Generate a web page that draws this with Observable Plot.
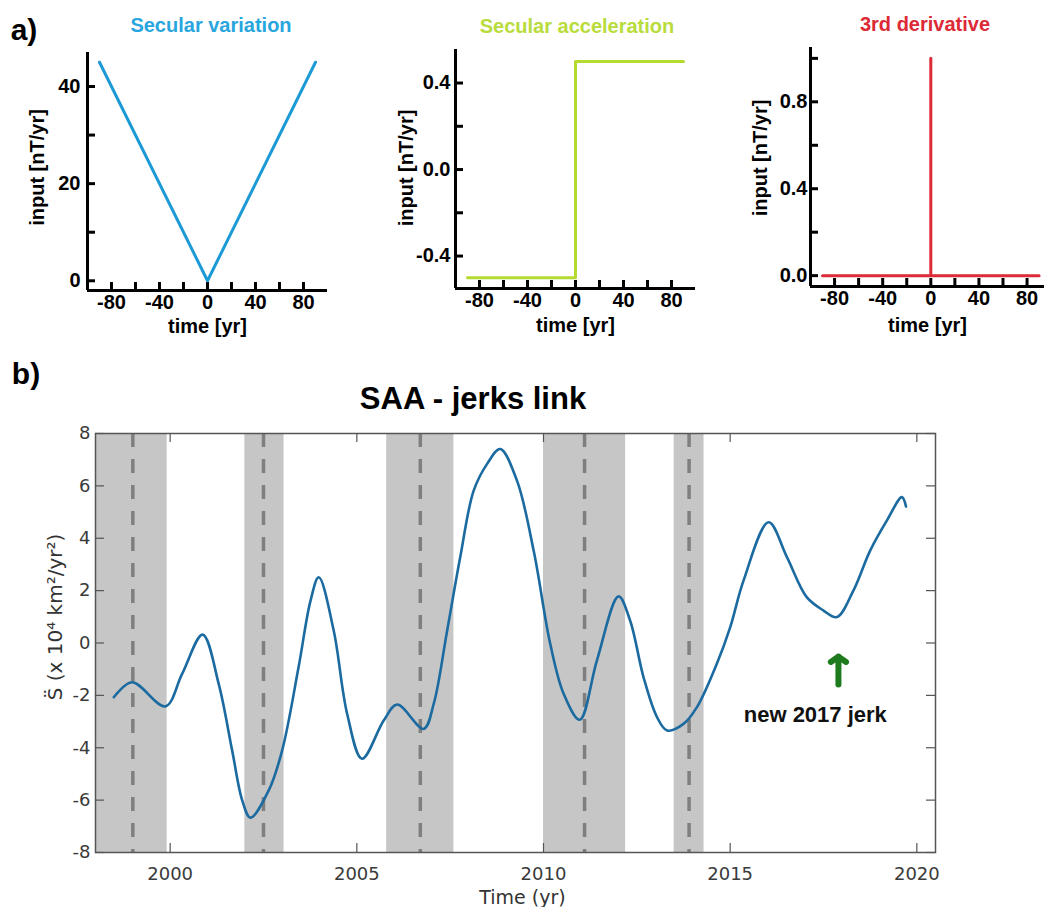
<!DOCTYPE html>
<html><head><meta charset="utf-8">
<script src="https://cdn.jsdelivr.net/npm/d3@7"></script>
<script src="https://cdn.jsdelivr.net/npm/@observablehq/plot@0.6"></script>
<style>
body{margin:0;background:#fff;}
#wrap{position:relative;width:1044px;height:907px;overflow:hidden;background:#fff;}
</style></head><body><div id="wrap"></div>
<script>
// ---------- data: panel a ----------
const svTime = [-90, 0, 90];
const svValue = [45, 0, 45];
const saTime = [-90, 0, 90];
const saValue = [-0.5, 0.5, 0.5];
const tdTime = [-90, 0, 0, 0, 90];
const tdValue = [0, 0, 1, 0, 0];
const topXTicks = [-80, -60, -40, -20, 0, 20, 40, 60, 80];
const topXLabels = [-80, -40, 0, 40, 80];
const svYTicks = [0, 10, 20, 30, 40];
const svYLabels = [0, 20, 40];
const saYTicks = [-0.4, -0.2, 0, 0.2, 0.4];
const saYLabels = [-0.4, 0, 0.4];
const tdYTicks = [0, 0.2, 0.4, 0.6, 0.8, 1.0];
const tdYLabels = [0, 0.4, 0.8];
const panelTitles = ["Secular variation", "Secular acceleration", "3rd derivative"];

// ---------- data: panel b ----------
const saaYear = [1998.49,1998.98,1999.87,2000.32,2000.87,2001.30,2001.66,2001.93,2002.15,2002.64,2003.00,2003.44,2003.76,2003.98,2004.38,2004.74,2005.14,2005.72,2006.08,2006.79,2007.06,2007.42,2007.77,2008.13,2008.49,2008.84,2009.29,2009.74,2010.18,2010.54,2010.97,2011.43,2012.01,2012.32,2012.68,2013.04,2013.31,2013.75,2014.11,2014.64,2015.00,2015.36,2016.03,2016.52,2017.05,2017.50,2017.86,2018.30,2018.75,2019.20,2019.60,2019.71];
const saaValue = [-2.07,-1.50,-2.42,-1.18,0.32,-1.56,-4.10,-6.01,-6.67,-5.63,-4.10,-0.92,1.62,2.51,0.48,-2.70,-4.42,-2.96,-2.35,-3.28,-2.32,0.48,3.28,5.82,6.84,7.41,6.20,3.50,-0.03,-1.94,-2.93,-0.67,1.78,0.86,-1.31,-2.83,-3.34,-3.09,-2.45,-0.80,0.60,2.39,4.61,3.28,1.75,1.24,0.99,2.00,3.53,4.68,5.57,5.21];
const bandStart = [1998.0, 2002.0, 2005.8, 2010.0, 2013.5];
const bandEnd = [1999.92, 2003.05, 2007.6, 2012.2, 2014.3];
const jerkYear = [1999.0, 2002.5, 2006.7, 2011.1, 2013.9];
const yearTicks = [2000, 2005, 2010, 2015, 2020];
const sTicks = [-8, -6, -4, -2, 0, 2, 4, 6, 8];
const jerkArrow = {x: 2017.9, y1: -1.58, y2: -0.52};
const jerkNote = {label: "new 2017 jerk", x: 2017.28, y: -2.73};
const bTitle = "SAA - jerks link";
const bXLabel = "Time (yr)";
const bYLabel = "S\u0308 (x 10\u2074 km\u00B2/yr\u00B2)";

// ---------- helpers ----------
const W = document.getElementById("wrap");
function place(el, left, top) {
  el.style.position = "absolute"; el.style.left = left + "px"; el.style.top = top + "px";
  W.appendChild(el);
}
function label(text, x, y, size, color, family, weight) {
  const d = document.createElement("div");
  d.textContent = text;
  d.style.cssText = `position:absolute;left:${x}px;top:${y}px;transform:translate(-50%,-50%);font-weight:${weight};font-size:${size}px;font-family:${family};color:${color};white-space:nowrap;line-height:1;`;
  W.appendChild(d);
}
const ARIAL = '"Liberation Sans", Arial, sans-serif';

function topPanel(o) {
  const innerW = o.width - o.marginLeft - o.marginRight;
  const innerH = o.height - o.marginTop - o.marginBottom;
  const pts = o.t.map((t, i) => ({t, v: o.v[i]}));
  const p = Plot.plot({
    width: o.width, height: o.height,
    marginLeft: o.marginLeft, marginRight: o.marginRight, marginTop: o.marginTop, marginBottom: o.marginBottom,
    x: {domain: o.xDomain}, y: {domain: o.yDomain},
    style: {fontFamily: ARIAL, fontSize: "20px", fontWeight: "bold", color: "#000", background: "transparent", overflow: "visible"},
    marks: [
      Plot.ruleX([o.xDomain[0]], {stroke: "#000", strokeWidth: 3}),
      Plot.ruleY([o.yDomain[0]], {stroke: "#000", strokeWidth: 3}),
      Plot.tickX(o.xTicks, {x: d => d, stroke: "#000", strokeWidth: 3, insetTop: innerH - 8}),
      Plot.tickY(o.yTicks, {y: d => d, stroke: "#000", strokeWidth: 3, insetRight: innerW - 8}),
      Plot.axisX({ticks: o.xLabels, tickSize: 0, tickPadding: 4, tickFormat: d => String(d), label: null}),
      Plot.axisY({ticks: o.yLabels, tickSize: 0, tickPadding: o.yPad, tickFormat: o.yFmt, label: null}),
      Plot.text(["input [nT/yr]"], {frameAnchor: "left", dx: o.ylabDx, dy: o.ylabDy, rotate: -90, textAnchor: "middle", lineAnchor: "middle", fontSize: 20, fontWeight: "bold", fill: "#000"}),
      Plot.text(["time [yr]"], {frameAnchor: "bottom", dy: o.xlabDy, textAnchor: "middle", lineAnchor: "middle", fontSize: 20, fontWeight: "bold", fill: "#000"}),
      Plot.line(pts, {x: "t", y: "v", stroke: o.color, strokeWidth: 3, curve: o.curve || "linear"})
    ]
  });
  place(p, o.left, 0);
}

topPanel({left: 0, width: 345, height: 345, marginLeft: 87, marginRight: 18, marginTop: 52, marginBottom: 55,
  xDomain: [-100, 100], yDomain: [-2, 47], t: svTime, v: svValue, color: "#1b9ad6",
  xTicks: topXTicks, xLabels: topXLabels, yTicks: svYTicks, yLabels: svYLabels, yFmt: d => String(d),
  ylabDx: -50, ylabDy: -4, xlabDy: 36, yPad: 7});
topPanel({left: 350, width: 350, height: 345, marginLeft: 105, marginRight: 5, marginTop: 49, marginBottom: 57,
  xDomain: [-100, 100], yDomain: [-0.55, 0.555], t: saTime, v: saValue, color: "#b5da30", curve: "step-after",
  xTicks: topXTicks, xLabels: topXLabels, yTicks: saYTicks, yLabels: saYLabels, yFmt: d => d.toFixed(1),
  ylabDx: -49, ylabDy: -1, xlabDy: 37, yPad: 5});
topPanel({left: 700, width: 344, height: 345, marginLeft: 110, marginRight: 0, marginTop: 47, marginBottom: 59,
  xDomain: [-100, 94.5], yDomain: [-0.05, 1.05], t: tdTime, v: tdValue, color: "#dc2a36",
  xTicks: topXTicks, xLabels: topXLabels, yTicks: tdYTicks, yLabels: tdYLabels, yFmt: d => d.toFixed(1),
  ylabDx: -50, ylabDy: -9, xlabDy: 39, yPad: 3});

label("a)", 24, 30, 30, "#000", ARIAL, "bold");
label(panelTitles[0], 211, 25, 20, "#29a6de", ARIAL, "bold");
label(panelTitles[1], 577, 26, 20, "#b8dc3c", ARIAL, "bold");
label(panelTitles[2], 925, 24, 20, "#dc2a36", ARIAL, "bold");

// ---------- panel b ----------
(function() {
  const width = 1044, height = 487, mL = 95, mR = 109, mT = 13, mB = 55;
  const innerW = width - mL - mR, innerH = height - mT - mB;
  const saa = saaYear.map((x, i) => ({x, y: saaValue[i]}));
  const bands = bandStart.map((s, i) => ({s, e: bandEnd[i]}));
  const tickStyle = {stroke: "#555", strokeWidth: 1.2};
  const p = Plot.plot({
    width, height, marginLeft: mL, marginRight: mR, marginTop: mT, marginBottom: mB,
    x: {domain: [1998, 2020.5]}, y: {domain: [-8, 8]},
    style: {fontFamily: '"DejaVu Sans", sans-serif', fontSize: "18px", color: "#3a3a3a", background: "transparent", overflow: "visible"},
    marks: [
      Plot.rect(bands, {x1: "s", x2: "e", fill: "#c6c6c6"}),
      Plot.ruleX(jerkYear, {stroke: "#7f7f7f", strokeWidth: 3.5, strokeDasharray: "14,12"}),
      Plot.line(saa, {x: "x", y: "y", curve: "catmull-rom", stroke: "#1b6aa0", strokeWidth: 2.6}),
      Plot.frame({stroke: "#555", strokeWidth: 1.5}),
      Plot.tickX(yearTicks, {x: d => d, ...tickStyle, insetTop: innerH - 9}),
      Plot.tickX(yearTicks, {x: d => d, ...tickStyle, insetBottom: innerH - 9}),
      Plot.tickY(sTicks, {y: d => d, ...tickStyle, insetRight: innerW - 9}),
      Plot.tickY(sTicks, {y: d => d, ...tickStyle, insetLeft: innerW - 9}),
      Plot.axisX({ticks: yearTicks, tickSize: 0, tickPadding: 15, tickFormat: d => String(d), label: null}),
      Plot.axisY({ticks: sTicks, tickSize: 0, tickPadding: 5, tickFormat: d => String(d), label: null}),
      Plot.arrow([jerkArrow], {x1: "x", x2: "x", y1: "y1", y2: "y2", stroke: "#1d7a1d", strokeWidth: 6, headAngle: 110}),
      Plot.text([jerkNote], {x: "x", y: "y", text: "label", fontSize: 22, fontWeight: "bold", fill: "#111", fontFamily: ARIAL}),
      Plot.text([bYLabel], {frameAnchor: "left", dx: -40, dy: -26, rotate: -90, textAnchor: "middle", lineAnchor: "middle", fontSize: 20, fill: "#333"}),
      Plot.text([bXLabel], {frameAnchor: "bottom", dx: 7, dy: 45, textAnchor: "middle", lineAnchor: "middle", fontSize: 19, fill: "#333"})
    ]
  });
  place(p, 0, 420);
})();

label("b)", 26, 374, 30, "#000", ARIAL, "bold");
label(bTitle, 473, 398, 31, "#000", ARIAL, "bold");
</script>
</body></html>
